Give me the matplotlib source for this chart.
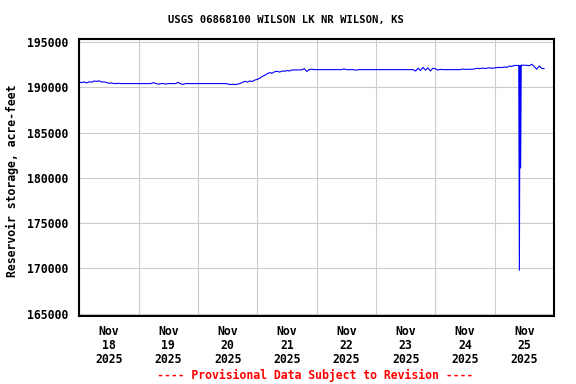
'''
USGS reservoir storage chart, Wilson Lake KS
'''

import numpy as np
import pandas as pd
import matplotlib
matplotlib.use("Agg")
import matplotlib.pyplot as plt
import matplotlib.dates as mdates
from matplotlib.ticker import FuncFormatter, MultipleLocator

# hourly storage, acre-feet
nov18 = [190560, 190520, 190600, 190480, 190620, 190550, 190700, 190650,
         190720, 190580, 190600, 190520, 190450, 190480, 190410, 190410,
         190440, 190410, 190410, 190410, 190410, 190410, 190410, 190410]
nov19 = [190410, 190410, 190410, 190410, 190410, 190410, 190520, 190410,
         190350, 190410, 190410, 190360, 190410, 190410, 190410, 190410,
         190550, 190380, 190320, 190410, 190410, 190410, 190410, 190410]
nov20 = [190410, 190410, 190410, 190410, 190410, 190410, 190410, 190410,
         190410, 190410, 190410, 190410, 190380, 190300, 190330, 190300,
         190350, 190420, 190550, 190660, 190580, 190700, 190640, 190800]
nov21 = [190880, 191000, 191200, 191320, 191500, 191620, 191560, 191720,
         191770, 191680, 191800, 191770, 191850, 191800, 191910, 191910,
         191910, 191920, 191930, 192060, 191750, 191950, 192000, 191950]
nov22 = [191950, 191950, 191950, 191950, 191950, 191950, 191950, 191950,
         191950, 191950, 191950, 192030, 191950, 191950, 191950, 191950,
         191880, 191950, 191950, 191950, 191950, 191950, 191950, 191950]
nov23 = [191950, 191950, 191950, 191950, 191950, 191950, 191950, 191950,
         191950, 191950, 191950, 191950, 191950, 191950, 191950, 191950,
         191800, 192100, 191850, 192200, 191900, 192150, 191800, 192100]
nov24 = [192050, 191900, 191980, 191950, 191950, 191950, 191950, 191950,
         191950, 191950, 191950, 192020, 191970, 191990, 191990, 191990,
         192050, 192100, 192060, 192120, 192080, 192120, 192150, 192100]
nov25_am = [192150, 192180, 192200, 192180, 192250, 192200, 192350, 192300,
            192420, 192400]
# drawdown spike on Nov 25 (15 minute readings)
spike_times = ["2025-11-25 09:45", "2025-11-25 10:00", "2025-11-25 10:15",
               "2025-11-25 10:30", "2025-11-25 10:45", "2025-11-25 11:00"]
spike_vals = [192420, 169800, 192400, 181100, 192440, 192450]
nov25_pm = [192430, 192430, 192380, 192540, 192300, 192000, 192350, 192100,
            192060]

days = ["Nov\n18\n2025", "Nov\n19\n2025", "Nov\n20\n2025", "Nov\n21\n2025",
        "Nov\n22\n2025", "Nov\n23\n2025", "Nov\n24\n2025", "Nov\n25\n2025"]

# build the series
hourly = nov18 + nov19 + nov20 + nov21 + nov22 + nov23 + nov24 + nov25_am
t_hourly = pd.date_range("2025-11-18 00:00", periods=len(hourly), freq="h")
t_pm = pd.date_range("2025-11-25 12:00", periods=len(nov25_pm), freq="h")
times = list(t_hourly) + list(pd.to_datetime(spike_times)) + list(t_pm)
vals = hourly + spike_vals + nov25_pm

mono = "DejaVu Sans Mono"
plt.rcParams['font.family'] = mono
plt.rcParams['font.weight'] = 'bold'

fig = plt.figure(figsize=(5.76, 3.84), dpi=100, facecolor='white')
ax = fig.add_axes([0.1377, 0.1779, 0.8241, 0.7198])

ax.plot(times, vals, color="#0000ff", lw=0.8)

ax.set_xlim(pd.Timestamp("2025-11-18"), pd.Timestamp("2025-11-26"))
ax.set_ylim(164790, 195300)

# gridlines at midnight, labels at noon
ax.xaxis.set_major_locator(mdates.DayLocator())
ax.xaxis.set_major_formatter(FuncFormatter(lambda x, p: ""))
label_pos = pd.date_range("2025-11-18 12:00", periods=len(days), freq="D")
ax.set_xticks(label_pos, minor=True)
ax.set_xticklabels(days, minor=True, fontsize=8.3, fontweight='bold',
                   linespacing=1.1)
ax.tick_params(axis='x', which='both', length=0)
ax.tick_params(axis='x', which='minor', pad=7)

ax.yaxis.set_major_locator(MultipleLocator(5000))
ax.yaxis.set_major_formatter(FuncFormatter(lambda y, p: "%d" % y))
ax.tick_params(axis='y', length=0, pad=8, labelsize=8.3)
for lab in ax.get_yticklabels():
    lab.set_fontweight('bold')

ax.grid(True, which='major', color="#cccccc", lw=0.8)
ax.set_axisbelow(True)
for s in ax.spines.values():
    s.set_linewidth(1.5)
    s.set_color("black")

fig.text(0.497, 1 - 20 / 384, "USGS 06868100 WILSON LK NR WILSON, KS",
         ha="center", va="center", fontsize=7.6, fontweight='bold')
fig.text(12 / 576, 1 - 181 / 384, "Reservoir storage, acre-feet",
         rotation=90, ha="center", va="center", fontsize=8.3, fontweight='bold')
fig.text(315 / 576, 1 - 375 / 384,
         "---- Provisional Data Subject to Revision ----",
         ha="center", va="center", fontsize=8.3, fontweight='bold', color="red")

plt.savefig("out.png", dpi=100)
